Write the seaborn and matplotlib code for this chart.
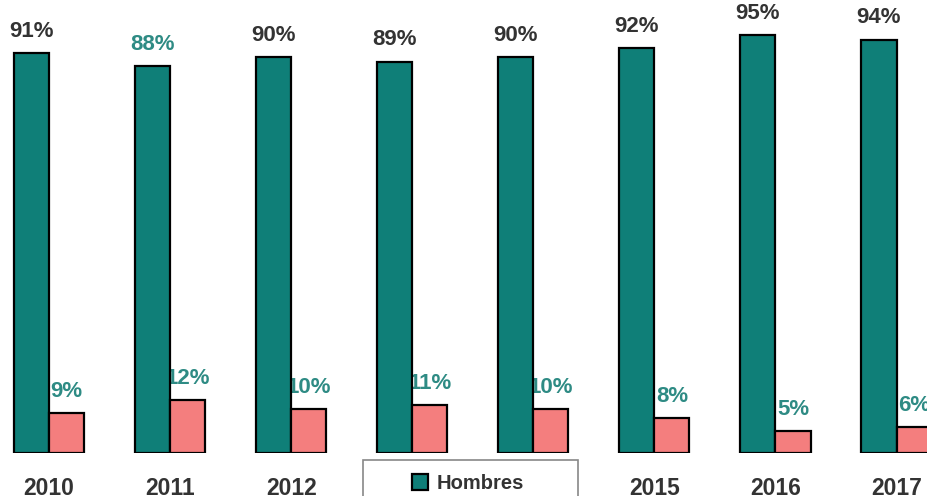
import pandas as pd
import matplotlib
matplotlib.use('Agg')
import matplotlib.pyplot as plt
from matplotlib.patches import Rectangle
import seaborn as sns

years = ['2010', '2011', '2012', '2013', '2014', '2015', '2016', '2017']
hombres = [91, 88, 90, 89, 90, 92, 95, 94]
mujeres = [9, 12, 10, 11, 10, 8, 5, 6]
hombres_label_color = ['#333333', '#2E8B84', '#333333', '#333333',
                       '#333333', '#333333', '#333333', '#333333']

TEAL = '#0F7F78'
PINK = '#F47E7E'
LABEL_TEAL = '#2E8B84'
DARK = '#333333'

df = pd.DataFrame({
    'Año': years * 2,
    'Sexo': ['Hombres'] * len(years) + ['Mujeres'] * len(years),
    'Valor': hombres + mujeres,
})

sns.set_theme(style='white')
plt.rcParams['font.family'] = ['Liberation Sans', 'DejaVu Sans']

fig = plt.figure(figsize=(9.28, 4.96), dpi=100)
ax = fig.add_axes([0, 43 / 496, 1, 453 / 496])

sns.barplot(data=df, x='Año', y='Valor', hue='Sexo', order=years,
            palette=[TEAL, PINK], width=0.58, edgecolor='black',
            linewidth=1.6, saturation=1, ax=ax, zorder=3, legend=True)

ax.set_xlim(-0.405, 7.26)
ax.set_ylim(0, 103)

# value labels (drawn under the bars, like the original)
for i in range(len(years)):
    ax.annotate(f'{hombres[i]}%', (i - 0.145, hombres[i]), xytext=(0, 8),
                textcoords='offset points', ha='center', va='bottom',
                fontsize=16, fontweight='bold', color=hombres_label_color[i],
                zorder=1)
    ax.annotate(f'{mujeres[i]}%', (i + 0.145, mujeres[i]), xytext=(0, 8),
                textcoords='offset points', ha='center', va='bottom',
                fontsize=16, fontweight='bold', color=LABEL_TEAL, zorder=1)

ax.set_xlabel('')
ax.set_ylabel('')
ax.set_yticks([])
ax.tick_params(axis='x', length=0, pad=17.5)
for lbl in ax.get_xticklabels():
    lbl.set_fontsize(16.5)
    lbl.set_fontweight('bold')
    lbl.set_color(DARK)
for s in ax.spines.values():
    s.set_visible(False)

# legend box: wide white frame covering the middle year labels
frame = Rectangle((363 / 928, -0.05), 215 / 928, (36 + 0.05 * 496) / 496,
                  transform=fig.transFigure, facecolor='white',
                  edgecolor='#888888', linewidth=1.2, zorder=10)
fig.patches.append(frame)

leg = fig.legend(*ax.get_legend_handles_labels(), loc='upper center',
                 bbox_to_anchor=(468 / 928, 1 - 464 / 496),
                 bbox_transform=fig.transFigure, frameon=False,
                 handlelength=0.8, handleheight=0.8, handletextpad=0.45,
                 borderpad=0.0, labelspacing=0.8,
                 prop={'weight': 'bold', 'size': 14.5})
leg.set_zorder(11)
for t in leg.get_texts():
    t.set_color(DARK)
ax.get_legend().remove()

fig.savefig('out.png', dpi=100)
